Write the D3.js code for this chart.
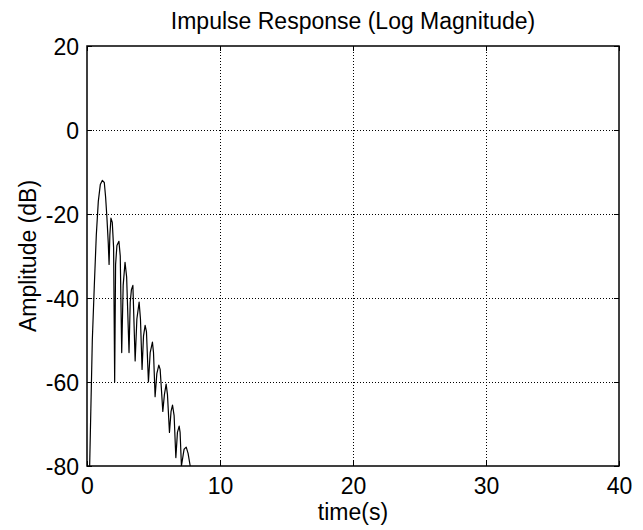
<!DOCTYPE html>
<html>
<head>
<meta charset="utf-8">
<script src="https://cdn.jsdelivr.net/npm/d3@7"></script>
<style>
  body { margin: 0; background: #fff; }
  svg { display: block; font-family: "Liberation Sans", Arial, sans-serif; }
</style>
</head>
<body>
<div id="chart"></div>
<script>
// Impulse response (time in s, amplitude in dB)
const timeS = [0.2, 0.4, 0.55, 0.7, 0.85, 1.0, 1.15, 1.3, 1.4, 1.5, 1.6, 1.66, 1.72, 1.8, 1.9, 2.0,
    2.08, 2.15, 2.25, 2.4, 2.5, 2.61, 2.72, 2.86, 2.98, 3.16, 3.25, 3.34, 3.45, 3.62, 3.75, 3.92,
    4.02, 4.14, 4.25, 4.37, 4.47, 4.62, 4.75, 4.92, 5.0, 5.12, 5.25, 5.4, 5.5, 5.7, 5.82, 5.95,
    6.05, 6.2, 6.32, 6.43, 6.55, 6.68, 6.8, 6.93, 7.0, 7.1, 7.3, 7.46, 7.6, 7.76];
const ampDb = [-80, -50, -37, -25, -17, -13, -12, -12.5, -16, -21, -27, -32, -25, -21, -22, -28,
    -60, -32, -27.5, -26.5, -30, -53, -37, -31.5, -35, -53, -41, -38, -37, -55, -45, -41,
    -45, -57, -49, -46.5, -48, -60, -53, -50.5, -53, -63.5, -58, -56, -57, -67, -63, -60.5,
    -63, -72, -67, -65.5, -68, -78, -72, -70.5, -72, -80, -76, -75.5, -77, -80];

const xTicks = [0, 10, 20, 30, 40];
const yTicks = [-80, -60, -40, -20, 0, 20];

const width = 643, height = 530;
const margin = { top: 46, right: 24, bottom: 64, left: 87 };
const fontSize = 23;

const svg = d3.select("#chart").append("svg")
    .attr("width", width)
    .attr("height", height);

const x = d3.scaleLinear().domain([0, 40]).range([margin.left, width - margin.right]);
const y = d3.scaleLinear().domain([-80, 20]).range([height - margin.bottom, margin.top]);

// plain hyphen for negatives, like the original
const fmt = d => String(d);

// Dotted grid
const grid = svg.append("g")
    .attr("stroke", "#000")
    .attr("stroke-width", 1)
    .attr("stroke-dasharray", "1,2");
grid.selectAll(".gx").data(xTicks.slice(1, -1)).enter().append("line")
    .attr("x1", d => x(d) + 0.5).attr("x2", d => x(d) + 0.5)
    .attr("y1", y(20)).attr("y2", y(-80));
grid.selectAll(".gy").data(yTicks.slice(1, -1)).enter().append("line")
    .attr("x1", x(0)).attr("x2", x(40))
    .attr("y1", d => y(d) + 0.5).attr("y2", d => y(d) + 0.5);

// Curve, clipped to the axes box
svg.append("clipPath").attr("id", "plot-clip")
    .append("rect")
    .attr("x", x(0)).attr("y", y(20))
    .attr("width", x(40) - x(0)).attr("height", y(-80) - y(20));

const points = timeS.map((t, i) => [t, ampDb[i]]);
const line = d3.line()
    .x(d => x(d[0]))
    .y(d => y(d[1]));

svg.append("path")
    .datum(points)
    .attr("clip-path", "url(#plot-clip)")
    .attr("fill", "none")
    .attr("stroke", "#000")
    .attr("stroke-width", 1.2)
    .attr("stroke-linejoin", "round")
    .attr("d", line);

// Axes with inward ticks
function styleAxis(g) {
    g.select(".domain").remove();
    g.selectAll(".tick line").attr("stroke", "#000");
    g.selectAll("text").attr("fill", "#000").style("font-size", fontSize + "px");
}

svg.append("g")
    .attr("transform", `translate(0,${y(-80)})`)
    .call(d3.axisBottom(x).tickValues(xTicks).tickSize(-5).tickPadding(12).tickFormat(fmt))
    .call(styleAxis)
    .call(g => g.selectAll("text").attr("dy", "0.71em"));

svg.append("g")
    .attr("transform", `translate(0,${y(20)})`)
    .call(d3.axisTop(x).tickValues(xTicks).tickSize(-5).tickFormat(""))
    .call(styleAxis);

svg.append("g")
    .attr("transform", `translate(${x(0)},0)`)
    .call(d3.axisLeft(y).tickValues(yTicks).tickSize(-5).tickPadding(8).tickFormat(fmt))
    .call(styleAxis)
    .call(g => g.selectAll("text").attr("dy", "0.36em"));

svg.append("g")
    .attr("transform", `translate(${x(40)},0)`)
    .call(d3.axisRight(y).tickValues(yTicks).tickSize(-5).tickFormat(""))
    .call(styleAxis);

// Frame
svg.append("rect")
    .attr("x", x(0)).attr("y", y(20))
    .attr("width", x(40) - x(0)).attr("height", y(-80) - y(20))
    .attr("fill", "none")
    .attr("stroke", "#000")
    .attr("stroke-width", 1.5);

// Labels
const cx = (x(0) + x(40)) / 2;
svg.append("text")
    .attr("x", cx).attr("y", 29)
    .attr("text-anchor", "middle")
    .style("font-size", fontSize + "px")
    .text("Impulse Response (Log Magnitude)");

svg.append("text")
    .attr("x", cx).attr("y", 520)
    .attr("text-anchor", "middle")
    .style("font-size", fontSize + "px")
    .text("time(s)");

svg.append("text")
    .attr("transform", `translate(36,${(y(20) + y(-80)) / 2}) rotate(-90)`)
    .attr("text-anchor", "middle")
    .style("font-size", fontSize + "px")
    .text("Amplitude (dB)");
</script>
</body>
</html>
